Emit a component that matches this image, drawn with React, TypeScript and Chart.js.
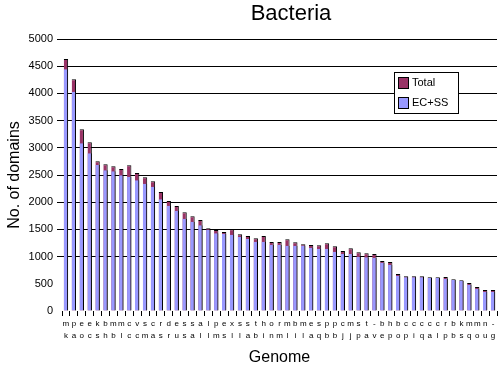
import React, { useEffect, useRef } from 'react';
import { Chart, registerables } from 'chart.js';

Chart.register(...registerables);

const FONT = '"Liberation Sans", Arial, Helvetica, sans-serif';

const chartTitle = 'Bacteria';
const xAxisTitle = 'Genome';
const yAxisTitle = 'No. of domains';
const seriesNames = ['Total', 'EC+SS'];

const labelRow1 = [
  'm', 'p', 'e', 'e', 'k', 'b', 'm', 'm', 'c', 'v', 's', 'c', 'r', 'd', 'e', 's', 's', 'a', 'l', 'p',
  'e', 'x', 's', 's', 't', 'h', 'o', 'r', 'm', 'b', 'm', 'e', 's', 'p', 'p', 'c', 'm', 's', 't', '-',
  'b', 'h', 'b', 'c', 'c', 'c', 'c', 'c', 'r', 'b', 'k', 'm', 'm', 'n', '-',
];
const labelRow2 = [
  'k', 'a', 'o', 'c', 's', 'h', 'b', 'l', 'c', 'c', 'm', 'a', 's', 'r', 'u', 's', 'a', 'l', 'l', 'm',
  's', 'l', 'l', 'a', 'b', 'i', 'n', 'm', 'l', 'i', 'l', 'a', 'q', 'b', 'b', 'j', 'j', 'p', 'a', 'v',
  'e', 'p', 'o', 'p', 'i', 'q', 'a', 'l', 'p', 'b', 's', 'q', 'o', 'u', 'g',
];

const totalDomains = [
  4632, 4258, 3340, 3101, 2751, 2696, 2659, 2610, 2678, 2536,
  2457, 2384, 2187, 2022, 1930, 1814, 1741, 1673, 1520, 1489,
  1452, 1501, 1410, 1378, 1336, 1378, 1268, 1268, 1317, 1262,
  1226, 1213, 1207, 1244, 1189, 1103, 1152, 1079, 1061, 1048,
  919, 901, 680, 638, 638, 638, 619, 619, 625, 582,
  564, 515, 441, 386, 386,
];
const ecssDomains = [
  4442, 4031, 3082, 2898, 2683, 2586, 2568, 2494, 2469, 2402,
  2340, 2285, 2053, 1936, 1844, 1697, 1641, 1575, 1494, 1428,
  1421, 1402, 1366, 1323, 1274, 1274, 1219, 1219, 1200, 1200,
  1200, 1163, 1145, 1145, 1090, 1048, 1048, 998, 987, 980,
  888, 851, 649, 619, 619, 619, 607, 607, 588, 570,
  551, 484, 410, 355, 355,
];
const yTicks = [0, 500, 1000, 1500, 2000, 2500, 3000, 3500, 4000, 4500, 5000];

const TOTAL_COLOR = '#993366';
const ECSS_COLOR = '#9999FF';

const overlayPlugin = {
  id: 'overlay',
  afterDraw(chart: any) {
    const ctx = chart.ctx;
    ctx.save();
    // title
    ctx.fillStyle = '#000';
    ctx.font = `22px ${FONT}`;
    ctx.textAlign = 'center';
    ctx.textBaseline = 'alphabetic';
    ctx.fillText(chartTitle, 291, 20);

    // legend
    const lx = 394, ly = 72, lw = 64, lh = 41;
    ctx.fillStyle = '#fff';
    ctx.fillRect(lx, ly, lw, lh);
    ctx.strokeStyle = '#000';
    ctx.lineWidth = 1;
    ctx.strokeRect(lx + 0.5, ly + 0.5, lw, lh);
    const colors = [TOTAL_COLOR, ECSS_COLOR];
    ctx.font = `11px ${FONT}`;
    ctx.textAlign = 'left';
    ctx.textBaseline = 'middle';
    seriesNames.forEach((name, i) => {
      const sy = ly + 5 + i * 20;
      ctx.fillStyle = colors[i];
      ctx.fillRect(lx + 4, sy, 10, 11);
      ctx.strokeStyle = '#000';
      ctx.strokeRect(lx + 4.5, sy + 0.5, 10, 11);
      ctx.fillStyle = '#000';
      ctx.fillText(name, lx + 18, sy + 6);
    });
    ctx.restore();
  },
};

export default function App() {
  const ref = useRef<HTMLCanvasElement | null>(null);

  useEffect(() => {
    const canvas = ref.current;
    if (!canvas) return;
    Chart.defaults.font.family = FONT;
    Chart.defaults.color = '#000';
    const chart = new Chart(canvas, {
      type: 'bar',
      data: {
        labels: labelRow1.map((a, i) => [a, labelRow2[i]]),
        datasets: [
          {
            label: seriesNames[0],
            data: totalDomains,
            backgroundColor: TOTAL_COLOR,
            borderColor: '#000',
            borderWidth: { top: 1, right: 1, left: 0, bottom: 0 },
            borderSkipped: 'start',
            grouped: false,
            order: 2,
            barPercentage: 0.55,
            categoryPercentage: 1,
          } as any,
          {
            label: seriesNames[1],
            data: ecssDomains,
            backgroundColor: ECSS_COLOR,
            borderColor: '#000',
            borderWidth: { top: 0, right: 1, left: 0, bottom: 0 },
            borderSkipped: 'start',
            grouped: false,
            order: 1,
            barPercentage: 0.55,
            categoryPercentage: 1,
          } as any,
        ],
      },
      options: {
        responsive: false,
        animation: false,
        devicePixelRatio: 1,
        layout: { padding: { top: 39, right: 2, left: 0, bottom: 0 } },
        plugins: {
          legend: { display: false },
          title: { display: false },
          tooltip: { enabled: false },
        },
        scales: {
          x: {
            grid: {
              display: true,
              offset: true,
              drawOnChartArea: false,
              drawTicks: true,
              tickLength: 5,
              color: '#000',
            },
            border: { display: false },
            ticks: {
              autoSkip: false,
              maxRotation: 0,
              minRotation: 0,
              padding: 2,
              color: '#000',
              font: { family: FONT, size: 8, lineHeight: 1.5 },
            },
            title: {
              display: true,
              text: xAxisTitle,
              color: '#000',
              font: { family: FONT, size: 16 },
              padding: { top: 0, bottom: 0 },
            },
            afterFit: (s: any) => { s.height = 56; },
          } as any,
          y: {
            min: yTicks[0],
            max: yTicks[yTicks.length - 1],
            afterBuildTicks: (s: any) => { s.ticks = yTicks.map((v) => ({ value: v })); },
            ticks: {
              color: '#000',
              padding: 4,
              font: { family: FONT, size: 11 },
              callback: (v: any) => String(v),
            },
            grid: {
              color: (c: any) => (c.tick && c.tick.value >= 1000 ? '#000' : 'rgba(0,0,0,0)'),
              tickLength: 5,
              lineWidth: 1,
            },
            border: { display: false },
            title: {
              display: true,
              text: yAxisTitle,
              color: '#000',
              font: { family: FONT, size: 16 },
              padding: { top: 5, bottom: 0 },
            },
            afterFit: (s: any) => { s.width = 62; },
          } as any,
        },
      },
      plugins: [overlayPlugin],
    });
    return () => chart.destroy();
  }, []);

  return (
    <div style={{ position: 'fixed', left: 0, top: 0, width: 499, height: 367, background: '#fff' }}>
      <canvas ref={ref} width={499} height={367} style={{ width: 499, height: 367, display: 'block' }} />
    </div>
  );
}
